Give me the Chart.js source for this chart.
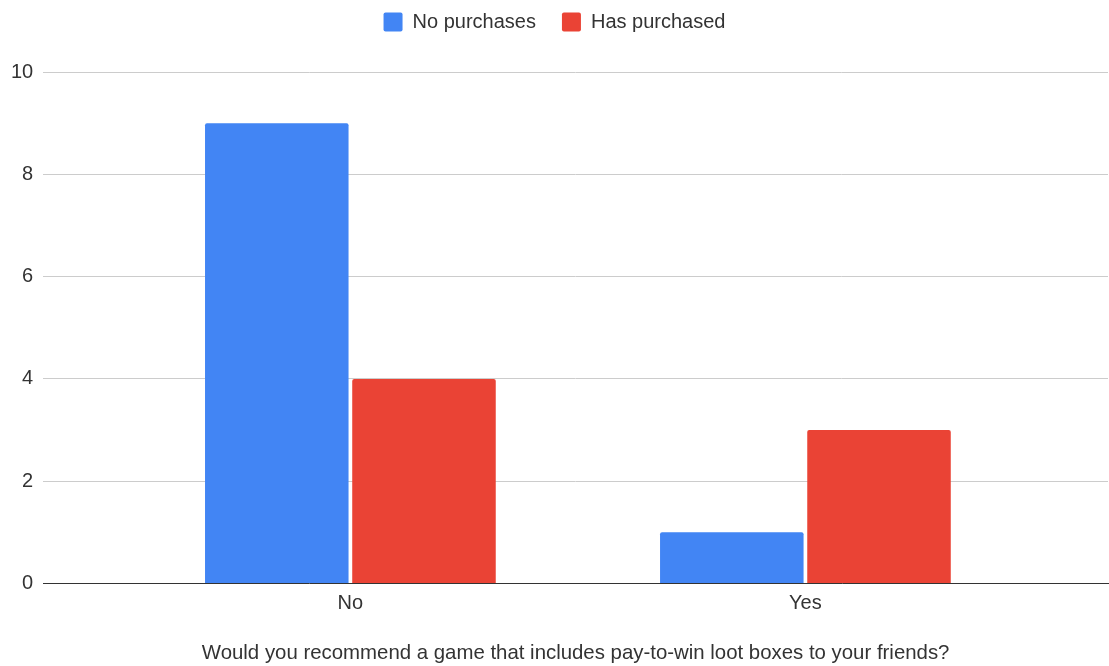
<!DOCTYPE html>
<html>
<head>
<meta charset="utf-8">
<script src="https://cdn.jsdelivr.net/npm/chart.js@4/dist/chart.umd.min.js"></script>
<style>
  html, body { margin: 0; padding: 0; background: #fff; }
  #wrap { width: 1109px; height: 666px; }
</style>
</head>
<body>
<div id="wrap"><canvas id="myChart" width="1109" height="666"></canvas></div>
<script>
var answers = ["No", "Yes"];
var noPurchases = [9, 1];
var hasPurchased = [4, 3];
var yTicks = [0, 2, 4, 6, 8, 10];

// answers sit at x = 0, 1 on a linear axis so the groups can be placed freely
function points(values) {
    return values.map(function (v, i) { return { x: i, y: v }; });
}

// extra room between the legend and the plot
var legendGap = {
    id: "legendGap",
    beforeLayout: function (chart) {
        var legend = chart.legend;
        if (!legend || legend._gapAdded) return;
        var fit = legend.fit;
        legend.fit = function () {
            fit.call(this);
            this.height += 30;
        };
        legend._gapAdded = true;
    }
};

var ctx = document.getElementById("myChart").getContext("2d");
Chart.defaults.font.family = "'Liberation Sans', Arial, sans-serif";
Chart.defaults.font.size = 20;
Chart.defaults.color = "#333";

var chart = new Chart(ctx, {
    type: "bar",
    plugins: [legendGap],
    data: {
        datasets: [
            {
                label: "No purchases",
                data: points(noPurchases),
                backgroundColor: "#4285f4",
                borderRadius: 2,
                categoryPercentage: 0.647,
                barPercentage: 0.975
            },
            {
                label: "Has purchased",
                data: points(hasPurchased),
                backgroundColor: "#ea4335",
                borderRadius: 2,
                categoryPercentage: 0.647,
                barPercentage: 0.975
            }
        ]
    },
    options: {
        responsive: false,
        animation: false,
        layout: { padding: { left: 1, right: 1, top: -14, bottom: 0 } },
        plugins: {
            tooltip: { enabled: false },
            legend: {
                position: "top",
                labels: {
                    boxWidth: 19,
                    boxHeight: 19,
                    useBorderRadius: true,
                    borderRadius: 2,
                    padding: 26
                }
            }
        },
        scales: {
            x: {
                type: "linear",
                offset: false,
                min: -0.675,
                max: 1.665,
                afterBuildTicks: function (axis) {
                    axis.ticks = answers.map(function (a, i) { return { value: i }; });
                },
                ticks: {
                    padding: 8,
                    maxRotation: 0,
                    callback: function (v) { return answers[v]; }
                },
                grid: { display: false, drawTicks: false },
                border: { display: true, color: "#333", width: 1 },
                title: {
                    display: true,
                    text: "Would you recommend a game that includes pay-to-win loot boxes to your friends?",
                    font: { size: 20.4 },
                    padding: { top: 18, bottom: 0 }
                }
            },
            y: {
                min: 0,
                max: 10,
                afterBuildTicks: function (axis) {
                    axis.ticks = yTicks.map(function (v) { return { value: v }; });
                },
                ticks: { padding: 10 },
                grid: { color: "#cccccc", drawTicks: false },
                border: { display: false }
            }
        }
    }
});
</script>
</body>
</html>
